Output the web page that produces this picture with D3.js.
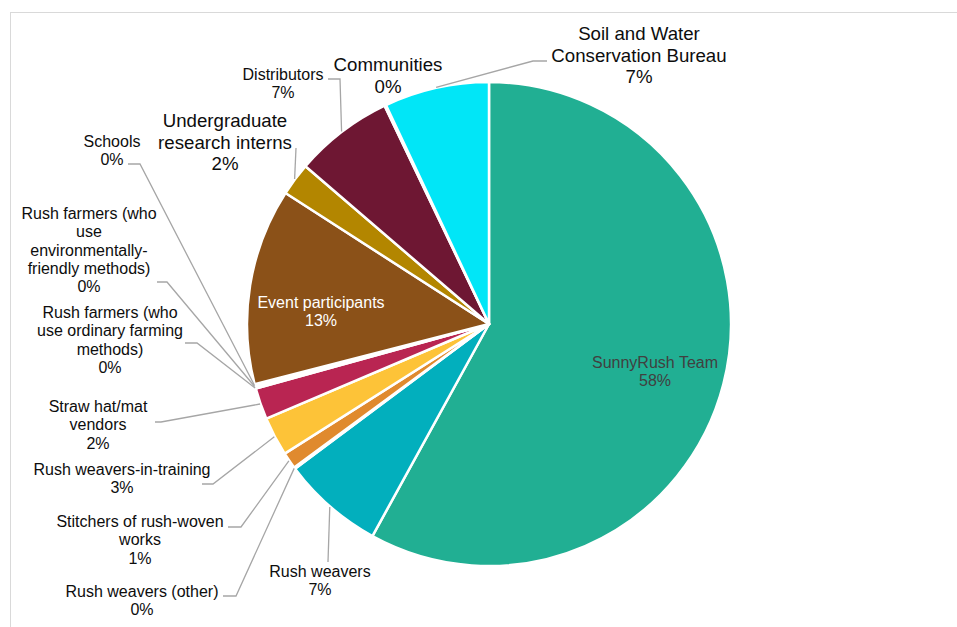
<!DOCTYPE html>
<html>
<head>
<meta charset="utf-8">
<script src="https://cdn.jsdelivr.net/npm/d3@7"></script>
<style>
body { margin: 0; background: #fff; }
text { font-family: "Liberation Sans", Arial, sans-serif; }
</style>
</head>
<body>
<svg width="957" height="627"></svg>
<script>
const categories = ["SunnyRush Team", "Rush weavers", "Rush weavers (other)", "Stitchers of rush-woven works",
    "Rush weavers-in-training", "Straw hat/mat vendors", "Rush farmers (who use ordinary farming methods)",
    "Rush farmers (who use environmentally-friendly methods)", "Schools", "Event participants",
    "Undergraduate research interns", "Distributors", "Communities", "Soil and Water Conservation Bureau"];
const values = [58.0, 6.8, 0.1, 1.1, 2.6, 2.1, 0.1, 0.1, 0.1, 13.1, 2.2, 6.6, 0.1, 7.0];
// label text wrapped the way the original wraps it
const labelLines = [["SunnyRush Team"], ["Rush weavers"], ["Rush weavers (other)"], ["Stitchers of rush-woven", "works"],
    ["Rush weavers-in-training"], ["Straw hat/mat", "vendors"], ["Rush farmers (who", "use ordinary farming", "methods)"],
    ["Rush farmers (who", "use", "environmentally-", "friendly methods)"], ["Schools"], ["Event participants"],
    ["Undergraduate", "research interns"], ["Distributors"], ["Communities"], ["Soil and Water", "Conservation Bureau"]];
const colors = ["#21af93", "#02afbd", "#8c8c8c", "#e08a2e", "#fdc338", "#b92552", "#8c8c8c", "#8c8c8c", "#8c8c8c",
    "#8b5118", "#b38600", "#6e1733", "#8c8c8c", "#01e6f7"];

// label placement (x = centre, y = first baseline) and leader bends on the label side
const layout = [
    { x: 655, y: 368, size: 16, fill: "#404040" },
    { x: 320, y: 577, leader: [[328, 562]] },
    { x: 142, y: 597, leader: [[223, 596], [236, 596]] },
    { x: 140, y: 527, leader: [[228, 527], [241, 527]] },
    { x: 122, y: 475, leader: [[202, 484], [213, 484]] },
    { x: 98, y: 412, leader: [[155, 422], [161, 422]] },
    { x: 110, y: 318, leader: [[185, 343], [197, 343]] },
    { x: 89, y: 219, leader: [[157, 282], [167, 282]] },
    { x: 112, y: 147, leader: [[128, 164], [140, 164]] },
    { x: 321, y: 308, fill: "#fff" },
    { x: 225, y: 127, size: 18.67, leader: [[296, 148]] },
    { x: 283, y: 80, leader: [[328, 79], [340, 79]] },
    { x: 388, y: 71, size: 18.67 },
    { x: 639, y: 40, size: 18.67, leader: [[547, 61], [533, 61]] }
];

const svg = d3.select("svg");
const cx = 489, cy = 324, r = 242;

// chart area border (runs off the right and bottom of the picture)
svg.append("rect")
    .attr("x", 10.5).attr("y", 12.5)
    .attr("width", 1200).attr("height", 1200)
    .attr("fill", "none")
    .attr("stroke", "#d9d9d9");

const data = categories.map(function (c, i) { return { name: c, value: values[i], i: i }; });
const total = d3.sum(values);

const pie = d3.pie().sort(null).value(function (d) { return d.value; });
const arcs = pie(data);
const arc = d3.arc().innerRadius(0).outerRadius(r);

const g = svg.append("g").attr("transform", "translate(" + cx + "," + cy + ")");

g.selectAll("path.slice")
    .data(arcs)
    .enter().append("path")
    .attr("class", "slice")
    .attr("d", arc)
    .attr("fill", function (d) { return colors[d.data.i]; })
    .attr("stroke", "#fff")
    .attr("stroke-width", 2.5)
    .attr("stroke-linejoin", "round");

// leader lines
arcs.forEach(function (a) {
    const L = layout[a.data.i];
    if (!L.leader) return;
    const mid = (a.startAngle + a.endAngle) / 2;
    const px = cx + (r + 0.5) * Math.sin(mid);
    const py = cy - (r + 0.5) * Math.cos(mid);
    const pts = L.leader.concat([[px, py]]);
    svg.append("path")
        .attr("d", d3.line()(pts))
        .attr("fill", "none")
        .attr("stroke", "#a6a6a6")
        .attr("stroke-width", 1.3);
});

// data labels
arcs.forEach(function (a) {
    const L = layout[a.data.i];
    const size = L.size || 16;
    const lh = size > 17 ? 21.5 : 18.3;
    const lines = labelLines[a.data.i].concat([Math.round(a.data.value / total * 100) + "%"]);
    const t = svg.append("text")
        .attr("text-anchor", "middle")
        .attr("font-size", size)
        .attr("fill", L.fill || "#0d0d0d");
    lines.forEach(function (s, k) {
        t.append("tspan").attr("x", L.x).attr("y", L.y + k * lh).text(s);
    });
});
</script>
</body>
</html>
